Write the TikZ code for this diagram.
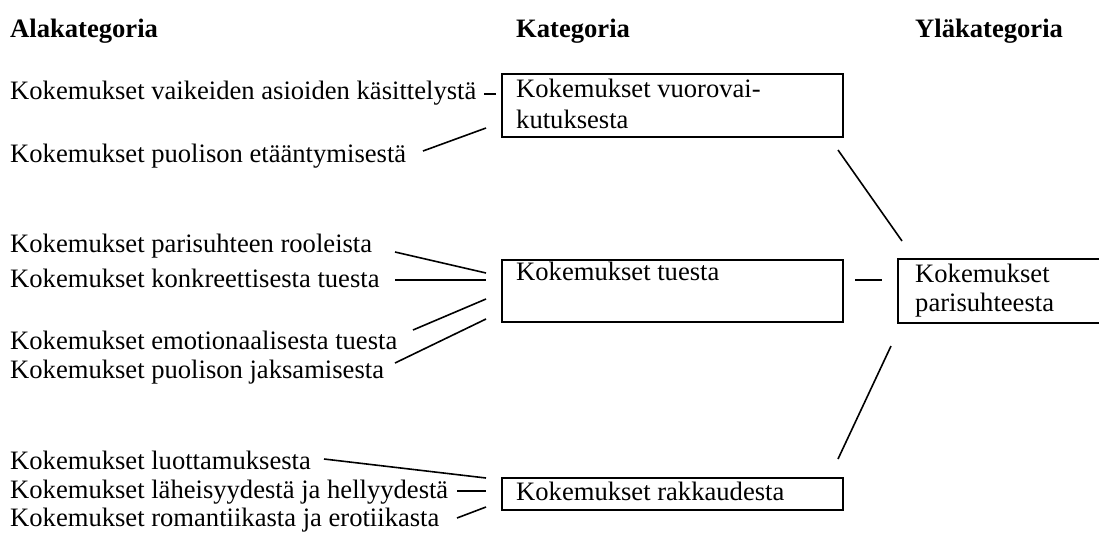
\documentclass[tikz,border=0pt]{standalone}
\usepackage{fontspec}
\setmainfont{Liberation Serif}
\begin{document}
\begin{tikzpicture}[x=1pt,y=-1pt,
  txt/.style={anchor=base west,inner sep=0pt,font=\fontsize{26.6}{30}\selectfont},
  hdr/.style={txt,font=\fontsize{26.6}{30}\selectfont\bfseries},
  box/.style={draw,line width=1.6pt,anchor=north west,inner sep=0pt},
  conn/.style={line width=1.6pt}]
\useasboundingbox (0,0) rectangle (1099,536);
% headers
\node[hdr] (h1) at (10,37) {Alakategoria};
\node[hdr] (h2) at (516,37) {Kategoria};
\node[hdr] (h3) at (915,37) {Yläkategoria};
% boxes
\node[box,minimum width=341pt,minimum height=63pt] (b1) at (501,73) {};
\node[box,minimum width=341pt,minimum height=62pt] (b2) at (501,259) {};
\node[box,minimum width=341pt,minimum height=32pt] (b3) at (501,477) {};
\node[box,minimum width=205pt,minimum height=64pt] (b4) at (897,258) {};
% box texts
\node[txt] (t1a) at (516,97) {Kokemukset vuorovai-};
\node[txt] (t1b) at (516,128) {kutuksesta};
\node[txt] (t2) at (516,280) {Kokemukset tuesta};
\node[txt] (t3) at (516,500) {Kokemukset rakkaudesta};
\node[txt] (t4a) at (915,282) {Kokemukset};
\node[txt] (t4b) at (915,311) {parisuhteesta};
% sub categories
\node[txt] (s1) at (10,99) {Kokemukset vaikeiden asioiden käsittelystä};
\node[txt] (s2) at (10,162) {Kokemukset puolison etääntymisestä};
\node[txt] (s3) at (10,252) {Kokemukset parisuhteen rooleista};
\node[txt] (s4) at (10,287) {Kokemukset konkreettisesta tuesta};
\node[txt] (s5) at (10,349) {Kokemukset emotionaalisesta tuesta};
\node[txt] (s6) at (10,378) {Kokemukset puolison jaksamisesta};
\node[txt] (s7) at (10,469) {Kokemukset luottamuksesta};
\node[txt] (s8) at (10,498) {Kokemukset läheisyydestä ja hellyydestä};
\node[txt] (s9) at (10,526) {Kokemukset romantiikasta ja erotiikasta};
% connector end points
\coordinate (c1a) at (484,94);  \coordinate (c1b) at (496,94);
\coordinate (c2a) at (423,151); \coordinate (c2b) at (486,128);
\coordinate (c3a) at (395,252); \coordinate (c3b) at (486,273);
\coordinate (c4a) at (395,280); \coordinate (c4b) at (486,280);
\coordinate (c5a) at (413,330); \coordinate (c5b) at (486,299);
\coordinate (c6a) at (395,363); \coordinate (c6b) at (486,319);
\coordinate (c7a) at (324,459); \coordinate (c7b) at (486,478);
\coordinate (c8a) at (457,491); \coordinate (c8b) at (486,491);
\coordinate (c9a) at (457,518); \coordinate (c9b) at (486,507);
\coordinate (d1a) at (838,150); \coordinate (d1b) at (902,241);
\coordinate (d2a) at (855,280); \coordinate (d2b) at (882,280);
\coordinate (d3a) at (891,346); \coordinate (d3b) at (838,459);
\foreach \p in {c1,c2,c3,c4,c5,c6,c7,c8,c9,d1,d2,d3}
  \draw[conn] (\p a) -- (\p b);
\end{tikzpicture}
\end{document}
